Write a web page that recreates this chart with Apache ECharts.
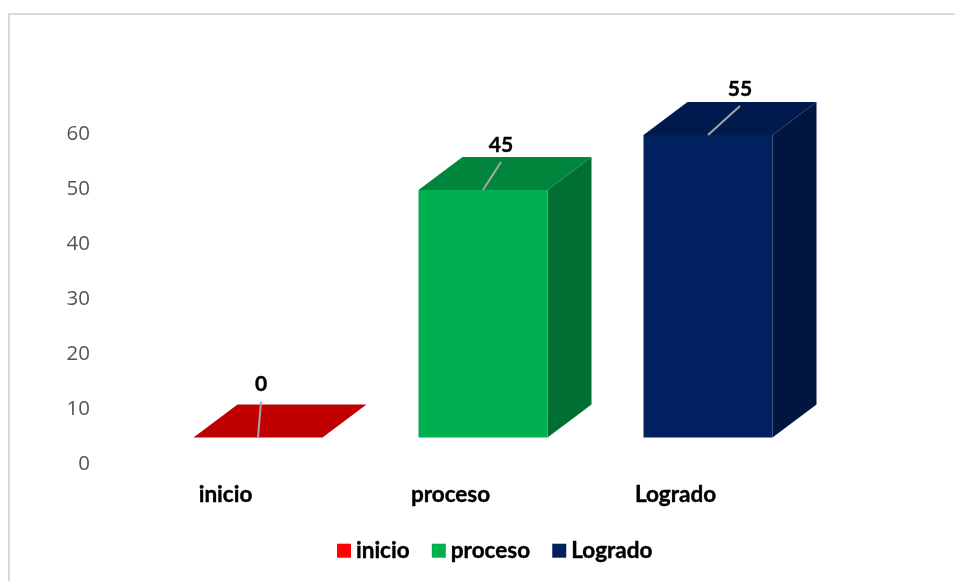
<!DOCTYPE html>
<html>
<head>
<meta charset="utf-8">
<title>Chart</title>
<script src="https://cdn.jsdelivr.net/npm/echarts@6/dist/echarts.min.js"></script>
<style>
  html, body { margin: 0; padding: 0; background: #fff; }
  #chartPanel { width: 955px; height: 581px; }
</style>
</head>
<body>
<div id="chartPanel"></div>
<script>
var categories = ['inicio', 'proceso', 'Logrado'];
var values = [0, 45, 55];
var yTicks = { min: 0, max: 60, interval: 10 };

// legend colour differs from the face colour on the red bar
var legendColors = ['#ff0000', '#00b050', '#002060'];
var frontColors = ['#c00000', '#00b050', '#002060'];
var topColors = ['#c00000', '#00863c', '#001a4d'];
var sideColors = ['#c00000', '#006f32', '#001540'];

// pseudo 3d box, in pixels
var barWidth = 129, depthX = 44, depthY = 33;
var shiftX = 32.5, shiftY = -26.5;
// leader line end, relative to the centre of the front top edge
var leaderEnds = [[3, -36], [18, -28], [32, -29]];

var labelFont = 'Lato, "Noto Sans", sans-serif';

function renderBox(params, api) {
  var i = api.value(0);
  var p = api.coord([i, api.value(1)]);
  var base = api.coord([i, 0]);
  var cx = p[0] + shiftX;
  var l = cx - barWidth / 2, r = cx + barWidth / 2;
  var top = p[1] + shiftY, bottom = base[1] + shiftY;
  var end = leaderEnds[i];
  return {
    type: 'group',
    children: [
      { type: 'polygon', shape: { points: [[r, top], [r + depthX, top - depthY], [r + depthX, bottom - depthY], [r, bottom]] },
        style: { fill: sideColors[i] } },
      { type: 'polygon', shape: { points: [[l, top], [l + depthX, top - depthY], [r + depthX, top - depthY], [r, top]] },
        style: { fill: topColors[i] } },
      { type: 'rect', shape: { x: l, y: top, width: barWidth, height: bottom - top },
        style: { fill: frontColors[i] } },
      { type: 'line', shape: { x1: cx, y1: top, x2: cx + end[0], y2: top + end[1] },
        style: { stroke: '#a6a6a6', lineWidth: 2 } },
      { type: 'text',
        style: { text: String(api.value(1)), x: cx + end[0], y: top + end[1] - 17,
          textAlign: 'center', textVerticalAlign: 'middle',
          fontFamily: labelFont, fontSize: 21, fontWeight: 'bold', fill: '#000',
          stroke: '#000', lineWidth: 0.4 } }
    ]
  };
}

var chartPanel = echarts.init(document.getElementById('chartPanel'));
chartPanel.setOption({
  backgroundColor: '#fff',
  animation: false,
  graphic: [{
    type: 'polyline',
    shape: { points: [[9, 581], [9, 14], [955, 14]] },
    style: { stroke: '#d9d9d9', lineWidth: 2, fill: null }
  }],
  grid: { left: 113, top: 134, width: 675, height: 330 },
  legend: {
    data: categories,
    left: 332,
    top: 534,
    icon: 'rect',
    itemWidth: 14,
    itemHeight: 14,
    itemGap: 22,
    textStyle: { fontFamily: labelFont, fontSize: 22.5, fontWeight: 'bold', color: '#000',
      textBorderColor: '#000', textBorderWidth: 0.4 }
  },
  xAxis: {
    type: 'category',
    data: categories,
    axisLine: { show: false },
    axisTick: { show: false },
    axisLabel: { fontFamily: labelFont, fontSize: 22.5, fontWeight: 'bold', color: '#000', margin: 19,
      textBorderColor: '#000', textBorderWidth: 0.4 }
  },
  yAxis: {
    type: 'value',
    min: yTicks.min,
    max: yTicks.max,
    interval: yTicks.interval,
    splitLine: { show: false },
    axisLine: { show: false },
    axisTick: { show: false },
    axisLabel: { fontFamily: '"Open Sans", sans-serif', fontSize: 20.5, color: '#555555', margin: 23 }
  },
  series: categories.map(function (name, i) {
    return {
      name: name,
      type: 'custom',
      renderItem: renderBox,
      itemStyle: { color: legendColors[i] },
      data: [[i, values[i]]]
    };
  })
});
</script>
</body>
</html>
